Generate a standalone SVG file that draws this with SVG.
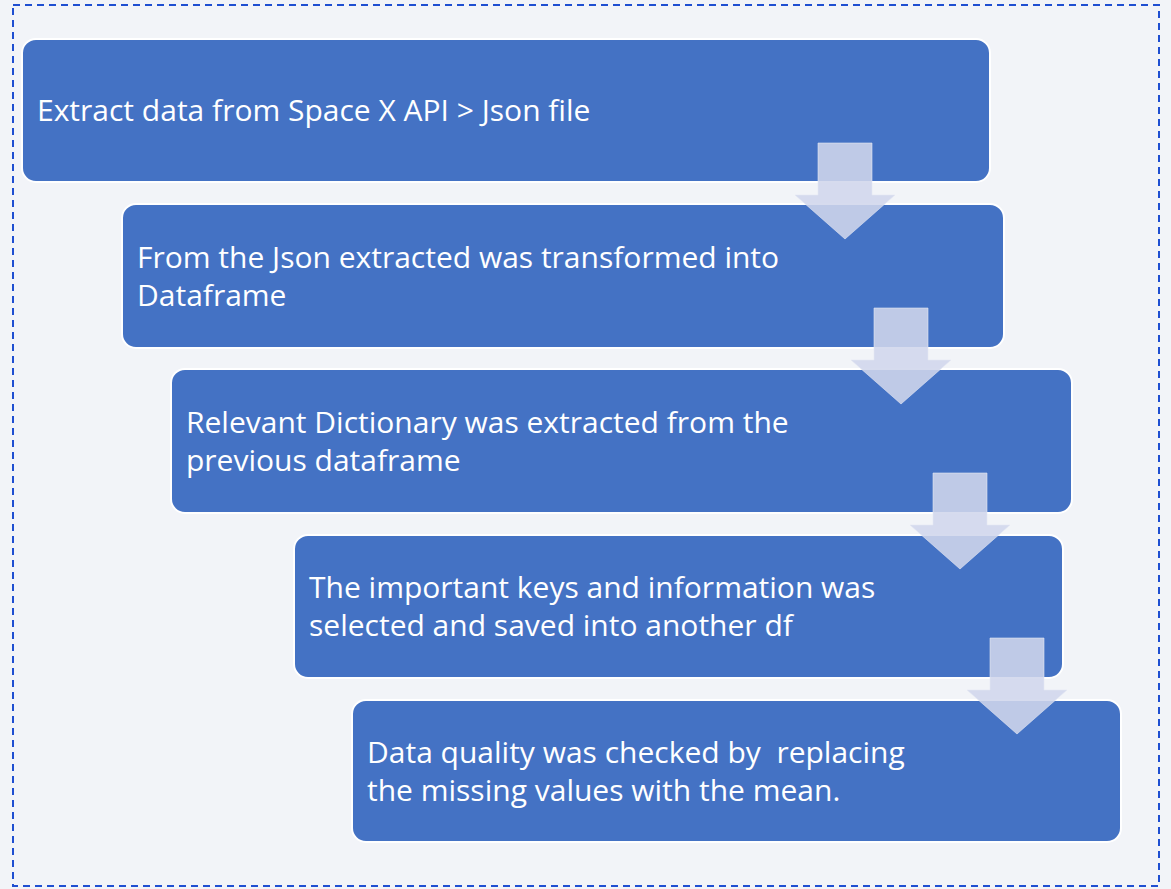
<svg xmlns="http://www.w3.org/2000/svg" width="1171" height="889" viewBox="0 0 1171 889">
<style>
.box{fill:#4472c4;stroke:#ffffff;stroke-width:2}
.t{font-family:"Open Sans","Liberation Sans",sans-serif;font-size:30px;fill:#ffffff}
.arr{fill:#d0d6ec;fill-opacity:0.88;stroke:#e4e8f4;stroke-opacity:0.6;stroke-width:1}
</style>
<defs>
<path id="a" d="M-27,0 H27 V52 H50 L0,96 L-50,52 H-27 Z"/>
</defs>
<rect x="0" y="0" width="1171" height="889" fill="#f2f4f8"/>
<rect x="13" y="5" width="1146" height="881" fill="none" stroke="#1f4fd1" stroke-width="2" stroke-dasharray="7,5"/>
<g id="step1"><rect class="box" x="22" y="39" width="968" height="143" rx="14"/><text class="t" x="37" y="121">Extract data from Space X API &gt; Json file</text></g>
<g id="step2"><rect class="box" x="122" y="204" width="882" height="144" rx="14"/><text class="t" x="137" y="268">From the Json extracted was transformed into</text><text class="t" x="137" y="306">Dataframe</text></g>
<g id="step3"><rect class="box" x="171" y="369" width="901" height="144" rx="14"/><text class="t" x="186" y="433">Relevant Dictionary was extracted from the</text><text class="t" x="186" y="471">previous dataframe</text></g>
<g id="step4"><rect class="box" x="294" y="535" width="769" height="143" rx="14"/><text class="t" x="309" y="598">The important keys and information was</text><text class="t" x="309" y="636">selected and saved into another df</text></g>
<g id="step5"><rect class="box" x="352" y="700" width="769" height="142" rx="14"/><text class="t" x="367" y="763" xml:space="preserve">Data quality was checked by  replacing</text><text class="t" x="367" y="801">the missing values with the mean.</text></g>
<g id="connectors">
<use href="#a" class="arr" x="845" y="143"/>
<use href="#a" class="arr" x="901" y="308"/>
<use href="#a" class="arr" x="960" y="473"/>
<use href="#a" class="arr" x="1017" y="638"/>
</g>
</svg>
